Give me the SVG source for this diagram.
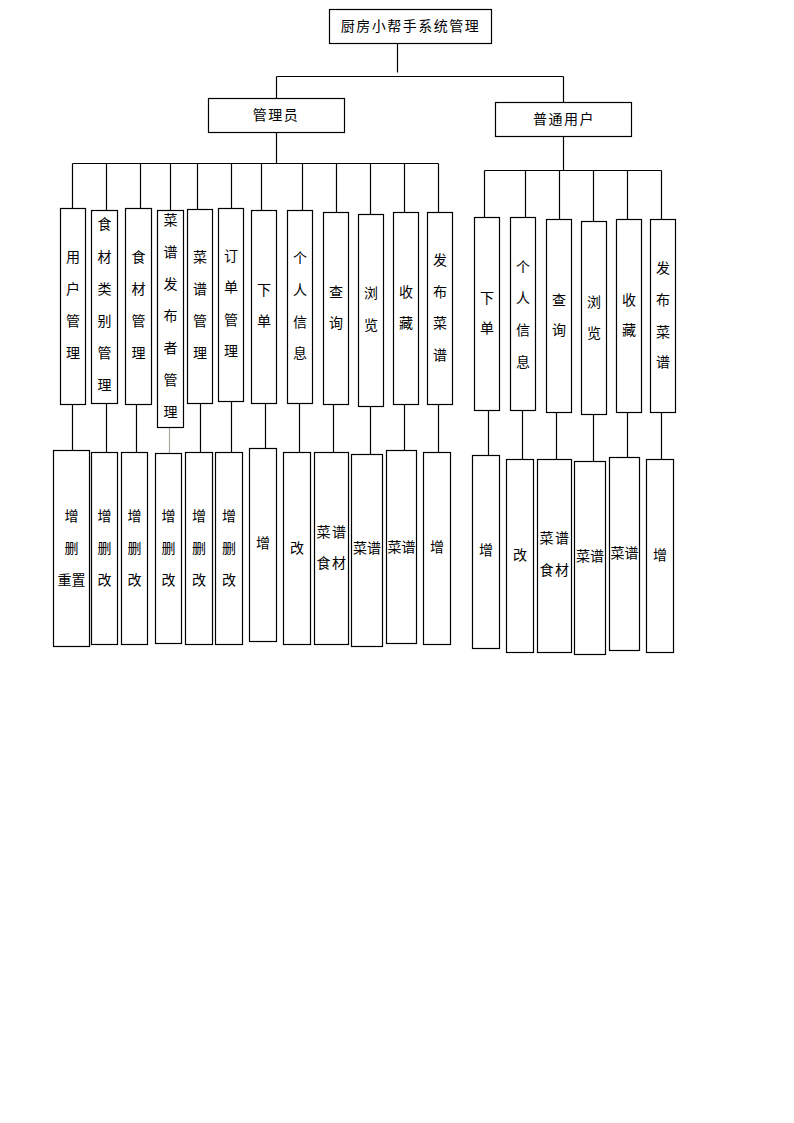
<svg xmlns="http://www.w3.org/2000/svg" width="794" height="1123" viewBox="0 0 794 1123">
<style>
.bg{fill:#fff}
.box{fill:#fff;stroke:#000;stroke-width:1.2}
.ln{stroke:#000;stroke-width:1.2;fill:none}
.lg{stroke:#a9a89c;stroke-width:1.2;fill:none}
.t{font-family:"Noto Sans CJK SC","Noto Sans CJK JP",sans-serif;font-size:14px;text-anchor:middle;fill:#000}
.h{letter-spacing:1.5px}
</style>
<rect class="bg" x="0" y="0" width="794" height="1123"/>
<g id="connectors">
<path class="ln" d="M397.5 43.5V72.5M276.5 76.5H563.5M276.5 76.5V98.5M563.5 76.5V102.5"/>
<path class="ln" d="M276.5 132.5V163.5M72.5 163.5H438.5"/>
<path class="ln" d="M72.5 163.5V208.5M106.5 163.5V210.5M140.5 163.5V208.5M170.5 163.5V210.5M197.5 163.5V209.5M231.5 163.5V208.5M261.5 163.5V210.5M302.5 163.5V210.5M336.5 163.5V212.5M370.5 163.5V214.5M404.5 163.5V212.5M438.5 163.5V212.5"/>
<path class="ln" d="M563.5 136.5V170.5M484.5 170.5H661.5"/>
<path class="ln" d="M484.5 170.5V217.5M525.5 170.5V217.5M559.5 170.5V219.5M593.5 170.5V221.5M627.5 170.5V219.5M661.5 170.5V219.5"/>
<path class="ln" d="M72.5 404.5V450.5M106.5 403.5V452.5M136.5 404.5V452.5M200.5 403.5V452.5M231.5 401.5V452.5M265.5 403.5V448.5M299.5 403.5V452.5M333.5 404.5V452.5M370.5 406.5V454.5M404.5 404.5V450.5M438.5 404.5V452.5"/>
<path class="lg" d="M169.5 427.5V453.5"/>
<path class="ln" d="M488.5 410.5V455.5M522.5 410.5V459.5M556.5 412.5V459.5M593.5 414.5V461.5M627.5 412.5V457.5M661.5 412.5V459.5"/>
</g>
<g id="root"><rect class="box" x="329.5" y="9.5" width="162" height="34"/><text class="t h" x="410.5" y="31">厨房小帮手系统管理</text></g>
<g id="admin"><rect class="box" x="208.5" y="98.5" width="136" height="34"/><text class="t h" x="276" y="120">管理员</text></g>
<g id="user"><rect class="box" x="495.5" y="102.5" width="136" height="34"/><text class="t h" x="564" y="124">普通用户</text></g>

<g id="a1"><rect class="box" x="60.5" y="208.5" width="25" height="196"/><text class="t" x="73" y="262">用</text><text class="t" x="73" y="294">户</text><text class="t" x="73" y="326">管</text><text class="t" x="73" y="358">理</text></g>
<g id="a2"><rect class="box" x="91.5" y="210.5" width="26" height="193"/><text class="t" x="104.5" y="229">食</text><text class="t" x="104.5" y="262">材</text><text class="t" x="104.5" y="294">类</text><text class="t" x="104.5" y="326">别</text><text class="t" x="104.5" y="358">管</text><text class="t" x="104.5" y="390">理</text></g>
<g id="a3"><rect class="box" x="125.5" y="208.5" width="26" height="196"/><text class="t" x="138.5" y="262">食</text><text class="t" x="138.5" y="294">材</text><text class="t" x="138.5" y="326">管</text><text class="t" x="138.5" y="358">理</text></g>
<g id="a4"><rect class="box" x="157.5" y="210.5" width="26" height="217"/><text class="t" x="170.5" y="225">菜</text><text class="t" x="170.5" y="257">谱</text><text class="t" x="170.5" y="289">发</text><text class="t" x="170.5" y="321">布</text><text class="t" x="170.5" y="353">者</text><text class="t" x="170.5" y="385">管</text><text class="t" x="170.5" y="417">理</text></g>
<g id="a5"><rect class="box" x="187.5" y="209.5" width="25" height="194"/><text class="t" x="200" y="262">菜</text><text class="t" x="200" y="294">谱</text><text class="t" x="200" y="326">管</text><text class="t" x="200" y="358">理</text></g>
<g id="a6"><rect class="box" x="218.5" y="208.5" width="25" height="193"/><text class="t" x="231" y="261">订</text><text class="t" x="231" y="292">单</text><text class="t" x="231" y="325">管</text><text class="t" x="231" y="356">理</text></g>
<g id="a7"><rect class="box" x="251.5" y="210.5" width="25" height="193"/><text class="t" x="264" y="295">下</text><text class="t" x="264" y="326">单</text></g>
<g id="a8"><rect class="box" x="287.5" y="210.5" width="25" height="193"/><text class="t" x="300" y="263">个</text><text class="t" x="300" y="295">人</text><text class="t" x="300" y="327">信</text><text class="t" x="300" y="358">息</text></g>
<g id="a9"><rect class="box" x="323.5" y="212.5" width="25" height="192"/><text class="t" x="336" y="297">查</text><text class="t" x="336" y="328">询</text></g>
<g id="a10"><rect class="box" x="358.5" y="214.5" width="25" height="192"/><text class="t" x="371" y="298">浏</text><text class="t" x="371" y="330">览</text></g>
<g id="a11"><rect class="box" x="393.5" y="212.5" width="25" height="192"/><text class="t" x="406" y="297">收</text><text class="t" x="406" y="328">藏</text></g>
<g id="a12"><rect class="box" x="427.5" y="212.5" width="25" height="192"/><text class="t" x="440" y="265">发</text><text class="t" x="440" y="297">布</text><text class="t" x="440" y="328">菜</text><text class="t" x="440" y="360">谱</text></g>

<g id="b1"><rect class="box" x="53.5" y="450.5" width="36" height="196"/><text class="t" x="71.5" y="521">增</text><text class="t" x="71.5" y="553">删</text><text class="t" x="71.5" y="585">重置</text></g>
<g id="b2"><rect class="box" x="91.5" y="452.5" width="26" height="192"/><text class="t" x="104.5" y="521">增</text><text class="t" x="104.5" y="553">删</text><text class="t" x="104.5" y="585">改</text></g>
<g id="b3"><rect class="box" x="121.5" y="452.5" width="26" height="192"/><text class="t" x="134.5" y="521">增</text><text class="t" x="134.5" y="553">删</text><text class="t" x="134.5" y="585">改</text></g>
<g id="b4"><rect class="box" x="155.5" y="453.5" width="26" height="190"/><text class="t" x="168.5" y="521">增</text><text class="t" x="168.5" y="553">删</text><text class="t" x="168.5" y="585">改</text></g>
<g id="b5"><rect class="box" x="185.5" y="452.5" width="27" height="192"/><text class="t" x="199" y="521">增</text><text class="t" x="199" y="553">删</text><text class="t" x="199" y="585">改</text></g>
<g id="b6"><rect class="box" x="215.5" y="452.5" width="27" height="192"/><text class="t" x="229" y="521">增</text><text class="t" x="229" y="553">删</text><text class="t" x="229" y="585">改</text></g>
<g id="b7"><rect class="box" x="249.5" y="448.5" width="27" height="193"/><text class="t" x="263" y="548">增</text></g>
<g id="b8"><rect class="box" x="283.5" y="452.5" width="27" height="192"/><text class="t" x="297" y="553">改</text></g>
<g id="b9"><rect class="box" x="314.5" y="452.5" width="34" height="192"/><text class="t h" x="332" y="537">菜谱</text><text class="t h" x="332" y="568">食材</text></g>
<g id="b10"><rect class="box" x="351.5" y="454.5" width="31" height="192"/><text class="t" x="367" y="553">菜谱</text></g>
<g id="b11"><rect class="box" x="386.5" y="450.5" width="30" height="193"/><text class="t" x="401.5" y="552">菜谱</text></g>
<g id="b12"><rect class="box" x="423.5" y="452.5" width="27" height="192"/><text class="t" x="437" y="552">增</text></g>

<g id="u1"><rect class="box" x="474.5" y="217.5" width="25" height="193"/><text class="t" x="487" y="303">下</text><text class="t" x="487" y="333">单</text></g>
<g id="u2"><rect class="box" x="510.5" y="217.5" width="25" height="193"/><text class="t" x="523" y="272">个</text><text class="t" x="523" y="303">人</text><text class="t" x="523" y="335">信</text><text class="t" x="523" y="367">息</text></g>
<g id="u3"><rect class="box" x="546.5" y="219.5" width="25" height="193"/><text class="t" x="559" y="305">查</text><text class="t" x="559" y="335">询</text></g>
<g id="u4"><rect class="box" x="581.5" y="221.5" width="25" height="193"/><text class="t" x="594" y="307">浏</text><text class="t" x="594" y="338">览</text></g>
<g id="u5"><rect class="box" x="616.5" y="219.5" width="25" height="193"/><text class="t" x="629" y="305">收</text><text class="t" x="629" y="335">藏</text></g>
<g id="u6"><rect class="box" x="650.5" y="219.5" width="25" height="193"/><text class="t" x="663" y="273">发</text><text class="t" x="663" y="305">布</text><text class="t" x="663" y="337">菜</text><text class="t" x="663" y="367">谱</text></g>

<g id="v1"><rect class="box" x="472.5" y="455.5" width="27" height="193"/><text class="t" x="486" y="555">增</text></g>
<g id="v2"><rect class="box" x="506.5" y="459.5" width="27" height="193"/><text class="t" x="520" y="560">改</text></g>
<g id="v3"><rect class="box" x="537.5" y="459.5" width="34" height="193"/><text class="t h" x="555" y="543">菜谱</text><text class="t h" x="555" y="575">食材</text></g>
<g id="v4"><rect class="box" x="574.5" y="461.5" width="31" height="193"/><text class="t" x="590" y="561">菜谱</text></g>
<g id="v5"><rect class="box" x="609.5" y="457.5" width="30" height="193"/><text class="t" x="624.5" y="558">菜谱</text></g>
<g id="v6"><rect class="box" x="646.5" y="459.5" width="27" height="193"/><text class="t" x="660" y="560">增</text></g>
</svg>
